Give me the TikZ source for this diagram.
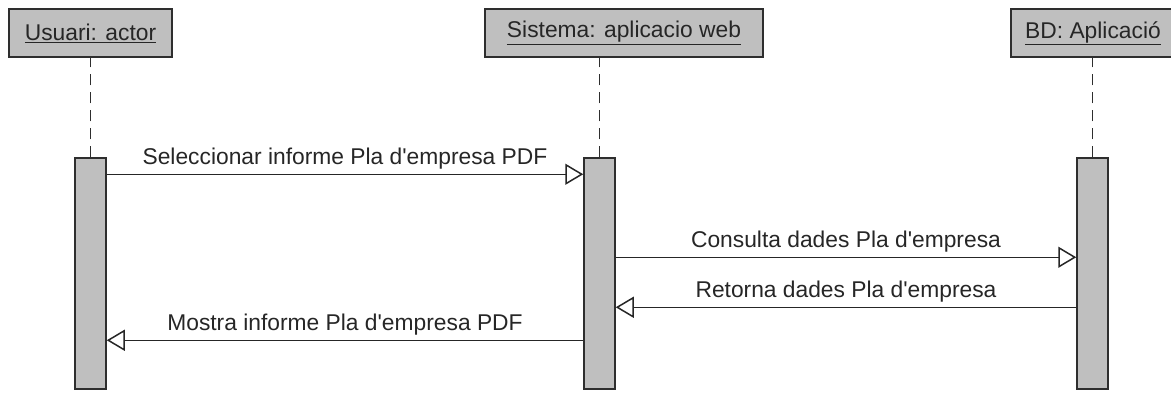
\documentclass[tikz,border=0pt]{standalone}
\usepackage{fontspec}
\setmainfont{Liberation Sans}[Ligatures=TeXOff]
\usetikzlibrary{arrows.meta}

\begin{document}
\begin{tikzpicture}[x=1pt,y=-1pt,
  capcalera/.style={draw=black!82, fill=black!25, line width=1.5pt, minimum height=48pt,
    inner sep=0pt, text=black!85, font=\fontsize{22.8}{27}\selectfont},
  barra/.style={draw=black!82, fill=black!25, line width=1.5pt, minimum width=31pt,
    minimum height=231pt, inner sep=0pt},
  vida/.style={black!82, line width=1.5pt, dash pattern=on 11pt off 7pt},
  msg/.style={black!85, line width=1.5pt, -{Triangle[open, length=18pt, width=21pt]}},
  etiq/.style={font=\fontsize{22.8}{27}\selectfont, text=black!85, inner sep=4pt}]
  \useasboundingbox (0,0) rectangle (1171,392);

  % capcaleres
  \node[capcalera, minimum width=163pt] (usuari) at (90.5,33) {\underline{Usuari: actor}};
  \node[capcalera, minimum width=278pt] (sistema) at (624,33) {\underline{Sistema: aplicacio web}};
  \node[capcalera, minimum width=164pt] (bd) at (1093,33) {\underline{BD: Aplicació}};

  % barres d'activacio
  \node[barra] (act1) at (90.5,273.5) {};
  \node[barra] (act2) at (599.5,273.5) {};
  \node[barra] (act3) at (1092.5,273.5) {};

  % linies de vida
  \draw[vida] (act1.north) -- (act1.north |- usuari.south);
  \draw[vida] (act2.north) -- (act2.north |- sistema.south);
  \draw[vida] (act3.north) -- (act3.north |- bd.south);

  % missatges
  \draw[msg] ([yshift=-17pt]act1.north east) -- ([yshift=-17pt]act2.north west)
    node[etiq, midway, above] {Seleccionar informe Pla d'empresa PDF};
  \draw[msg] ([yshift=-100pt]act2.north east) -- ([yshift=-100pt]act3.north west)
    node[etiq, midway, above] {Consulta dades Pla d'empresa};
  \draw[msg] ([yshift=-150pt]act3.north west) -- ([yshift=-150pt]act2.north east)
    node[etiq, midway, above] {Retorna dades Pla d'empresa};
  \draw[msg] ([yshift=-183pt]act2.north west) -- ([yshift=-183pt]act1.north east)
    node[etiq, midway, above] {Mostra informe Pla d'empresa PDF};
\end{tikzpicture}
\end{document}
